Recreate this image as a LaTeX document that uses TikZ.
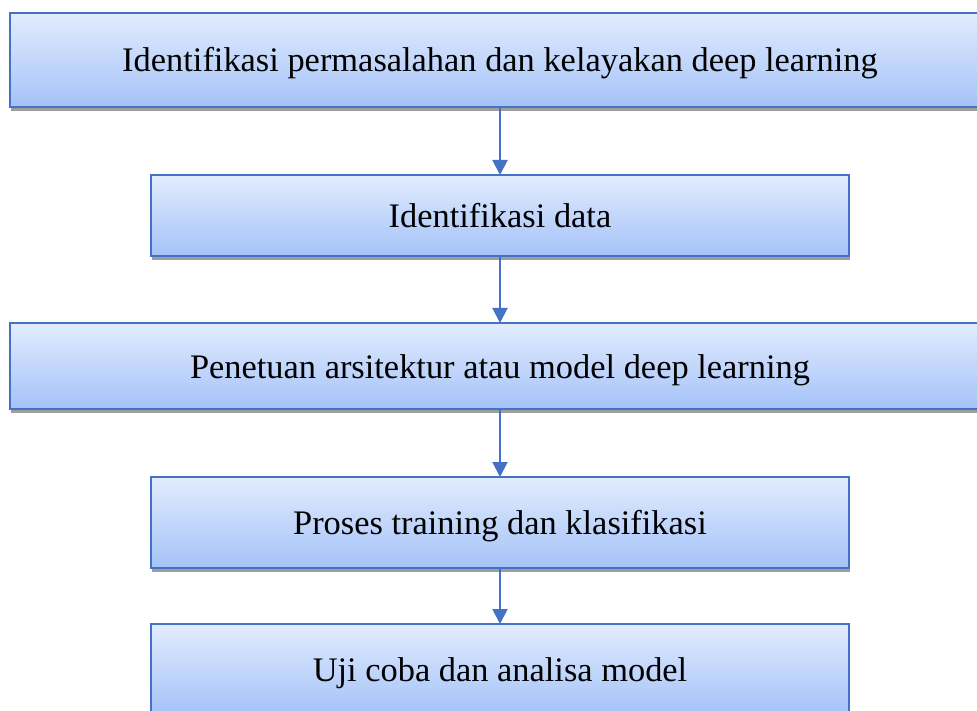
\documentclass[tikz,border=0pt]{standalone}
\usepackage{fontspec}
\setmainfont{Liberation Serif}
\usetikzlibrary{arrows.meta,shadows}

\definecolor{edgeblue}{RGB}{68,114,196}
\definecolor{filltop}{RGB}{226,236,254}
\definecolor{fillbot}{RGB}{164,194,248}
\definecolor{shadowgray}{RGB}{158,158,158}

\tikzset{
  stepbox/.style={
    draw=edgeblue, line width=2.4pt,
    top color=filltop, bottom color=fillbot,
    inner sep=0pt, outer sep=0pt,
    text height=24pt, text depth=0pt,
    font=\fontsize{34.4}{40}\selectfont, text=black,
    drop shadow={shadow xshift=1pt, shadow yshift=-4pt,
                 fill=shadowgray, opacity=1}
  },
  flow/.style={
    draw=edgeblue, line width=2pt,
    -{Triangle[length=15pt,width=15pt]}
  }
}

\begin{document}
\begin{tikzpicture}[x=1pt,y=-1pt]
  \useasboundingbox (0,0) rectangle (977,711);
  \clip (0,0) rectangle (977,711);
  \fill[white] (0,0) rectangle (977,711);

  % process steps, top to bottom
  \node[stepbox, minimum width=980pt, minimum height=94pt] (b1) at (500,60)
    {Identifikasi permasalahan dan kelayakan deep learning};
  \node[stepbox, minimum width=698pt, minimum height=81pt] (b2) at (500,215.5)
    {Identifikasi data};
  \node[stepbox, minimum width=980pt, minimum height=86pt] (b3) at (500,366)
    {Penetuan arsitektur atau model deep learning};
  \node[stepbox, minimum width=698pt, minimum height=91pt] (b4) at (500,522.5)
    {Proses training dan klasifikasi};
  \node[stepbox, minimum width=698pt, minimum height=90pt] (b5) at (500,669)
    {Uji coba dan analisa model};

  % connectors
  \draw[flow] (b1.south) -- (b2.north);
  \draw[flow] (b2.south) -- (b3.north);
  \draw[flow] (b3.south) -- (b4.north);
  \draw[flow] (b4.south) -- (b5.north);
\end{tikzpicture}
\end{document}
